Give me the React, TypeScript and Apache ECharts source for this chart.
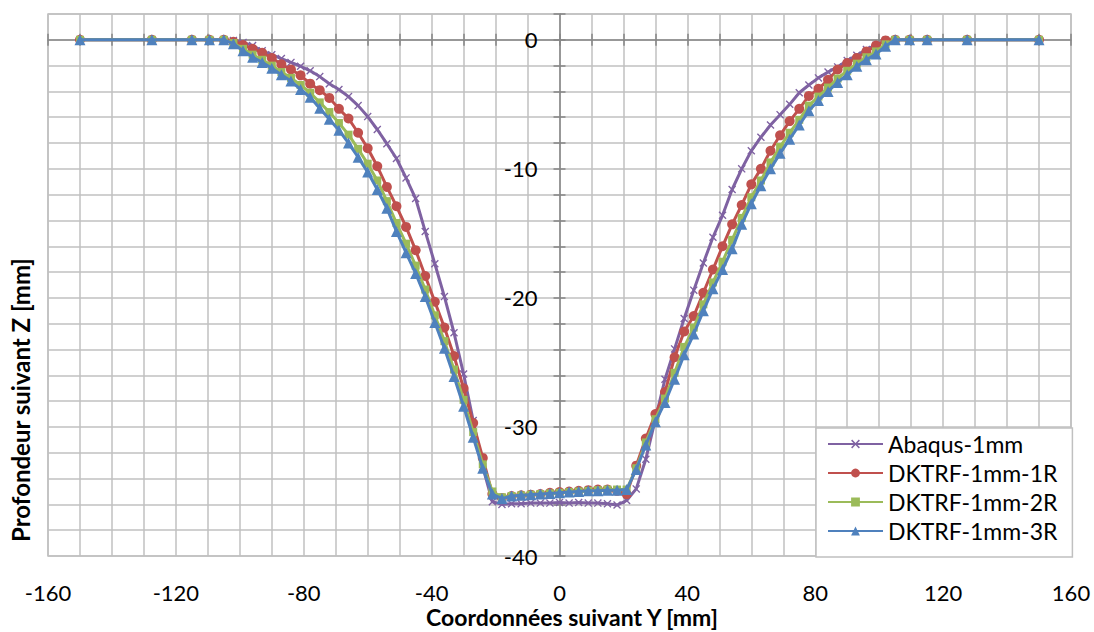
import React, { useEffect, useRef } from "react";
import * as echarts from "echarts";

// Node positions along Y [mm]
const yCoords = [
  -150, -127.5, -115, -109.5, -105,
  -102, -99, -96, -93, -90, -87, -84, -81, -78, -75, -72, -69, -66, -63, -60, -57, -54, -51, -48, -45, -42, -39, -36, -33, -30, -27, -24, -21,
  -18, -15, -12, -9, -6, -3, 0, 3, 6, 9, 12, 15, 18,
  21, 24, 27, 30, 33, 36, 39, 42, 45, 48, 51, 54, 57, 60, 63, 66, 69, 72, 75, 78, 81, 84, 87, 90, 93, 96, 99, 102,
  105, 109.5, 115, 127.5, 150,
];

const abaqus = [
  0, 0, 0, 0, 0,
  -0.05, -0.2, -0.45, -0.85, -1.15, -1.45, -1.75, -2.05, -2.4, -2.85, -3.4, -3.85, -4.4, -5.1, -5.95, -6.95, -8.05, -9.2, -10.7, -12.3, -14.85, -17.35, -19.9, -22.7, -25.9, -29.5, -33.1, -35.8,
  -36.0, -35.95, -35.95, -35.9, -35.9, -35.9, -35.85, -35.9, -35.85, -35.9, -35.9, -35.95, -36.05,
  -35.7, -34.8, -32.5, -29.4, -26.3, -23.95, -21.6, -19.4, -17.3, -15.3, -13.6, -11.6, -10.0, -8.6, -7.55, -6.6, -5.8, -5.0, -4.1, -3.5, -2.95, -2.5, -2.1, -1.6, -1.2, -0.75, -0.42, -0.05,
  0, 0, 0, 0, 0,
];

const dktrf1R = [
  0, 0, 0, 0, 0,
  -0.15, -0.4, -0.7, -1.0, -1.4, -1.9, -2.3, -2.75, -3.4, -3.9, -4.5, -5.35, -6.1, -7.2, -8.4, -9.8, -11.4, -12.9, -14.5, -16.3, -18.3, -20.3, -22.3, -24.5, -27.0, -29.7, -32.4, -35.2,
  -35.5, -35.35, -35.3, -35.25, -35.2, -35.1, -35.05, -35.0, -34.95, -34.9, -34.85, -34.85, -34.95,
  -35.2, -33.0, -30.9, -29.0, -27.3, -24.6, -22.6, -21.4, -19.6, -17.8, -16.0, -14.3, -12.8, -11.2, -10.0, -8.6, -7.4, -6.3, -5.35, -4.35, -3.8, -3.1, -2.3, -1.8, -1.4, -0.9, -0.45, -0.05,
  0, 0, 0, 0, 0,
];

const dktrf2R = [
  0, 0, 0, 0, 0,
  -0.25, -0.7, -1.15, -1.55, -2.0, -2.5, -2.95, -3.5, -4.1, -4.85, -5.6, -6.45, -7.35, -8.45, -9.6, -10.9, -12.5, -14.2, -15.8, -17.5, -19.35, -21.35, -23.35, -25.55, -27.9, -30.4, -32.9, -35.0,
  -35.45, -35.35, -35.3, -35.25, -35.2, -35.15, -35.1, -35.05, -35.0, -34.95, -34.9, -34.85, -34.85,
  -34.85, -33.2, -31.2, -29.4, -27.8, -25.8, -23.8, -22.3, -20.5, -18.8, -17.2, -15.5, -13.8, -12.2, -10.9, -9.5, -8.3, -7.2, -6.2, -5.1, -4.4, -3.7, -3.0, -2.4, -1.85, -1.35, -0.9, -0.35,
  0, 0, 0, 0, 0,
];

const dktrf3R = [
  0, 0, 0, 0, 0,
  -0.3, -0.85, -1.35, -1.75, -2.2, -2.7, -3.2, -3.85, -4.45, -5.3, -6.15, -7.0, -8.0, -9.1, -10.25, -11.6, -13.05, -14.85, -16.5, -18.1, -19.9, -21.9, -23.9, -26.1, -28.4, -30.8, -33.2, -35.2,
  -35.55, -35.35, -35.3, -35.25, -35.2, -35.15, -35.1, -35.05, -35.0, -34.95, -34.95, -34.9, -34.9,
  -34.85, -33.3, -31.4, -29.6, -28.1, -26.3, -24.4, -22.8, -21.0, -19.3, -17.8, -16.2, -14.3, -12.7, -11.3, -10.0, -8.8, -7.7, -6.6, -5.5, -4.7, -4.0, -3.3, -2.7, -2.05, -1.55, -1.1, -0.5,
  0, 0, 0, 0, 0,
];

const seriesNames = ["Abaqus-1mm", "DKTRF-1mm-1R", "DKTRF-1mm-2R", "DKTRF-1mm-3R"];
const seriesValues = [abaqus, dktrf1R, dktrf2R, dktrf3R];
const seriesColors = ["#7F62A2", "#C0504D", "#9BBB59", "#4F81BD"];
const crossSymbol =
  "path://M0,1.2L1.2,0L5,3.8L8.8,0L10,1.2L6.2,5L10,8.8L8.8,10L5,6.2L1.2,10L0,8.8L3.8,5Z";
const seriesSymbols = [crossSymbol, "circle", "rect", "triangle"];
const seriesSymbolSizes = [8, 10, 8, 11];

const xLabelStep = 40;
const yLabelStep = 10;
const FONT = "Lato, 'Open Sans', sans-serif";
const GRID_COLOR = "#C0C0C0";
const AXIS_COLOR = "#868686";

const W = 1094;
const H = 632;
const GRID_LEFT = 48;
const GRID_RIGHT = 23;
const X_MIN = -160;
const X_MAX = 160;

export default function App() {
  const ref = useRef<HTMLDivElement>(null);

  useEffect(() => {
    if (!ref.current) return;
    const chart = echarts.init(ref.current, undefined, { renderer: "svg" });

    const series = seriesNames.map((name, i) => ({
      name,
      type: "line",
      xAxisIndex: 0,
      yAxisIndex: 0,
      data: yCoords.map((x, j) => [x, seriesValues[i][j]]),
      symbol: seriesSymbols[i],
      symbolSize: seriesSymbolSizes[i],
      showSymbol: true,
      showAllSymbol: true,
      lineStyle: { color: seriesColors[i], width: 3 },
      itemStyle: { color: seriesColors[i] },
      z: 3 + i,
    }));

    const plotWidth = W - GRID_LEFT - GRID_RIGHT;
    const zeroOffset = -((0 - X_MIN) / (X_MAX - X_MIN)) * plotWidth;

    const xBase = { type: "value", min: X_MIN, max: X_MAX, interval: 10 };
    const yBase = { type: "value", min: -40, max: 2, interval: 2 };

    chart.setOption({
      animation: false,
      backgroundColor: "#ffffff",
      grid: {
        left: GRID_LEFT,
        right: GRID_RIGHT,
        top: 14,
        bottom: 76,
        show: true,
        borderColor: GRID_COLOR,
        borderWidth: 1.5,
      },
      xAxis: [
        {
          ...xBase,
          position: "bottom",
          axisLine: { show: false, onZero: false },
          axisTick: { show: false },
          axisLabel: {
            fontSize: 22,
            lineHeight: 22,
            fontFamily: FONT,
            color: "#000",
            margin: 25,
            formatter: (v: number) => (v % xLabelStep === 0 ? String(v) : ""),
          },
          splitLine: { show: true, lineStyle: { color: GRID_COLOR, width: 1.5 } },
        },
        {
          ...xBase,
          position: "bottom",
          axisLine: { show: true, onZero: true, lineStyle: { color: AXIS_COLOR, width: 1.5 } },
          axisTick: { show: true, inside: false, length: 6, lineStyle: { color: AXIS_COLOR, width: 1.5 } },
          axisLabel: { show: false },
          splitLine: { show: false },
        },
        {
          ...xBase,
          position: "bottom",
          axisLine: { show: false, onZero: true },
          axisTick: { show: true, inside: true, length: 6, lineStyle: { color: AXIS_COLOR, width: 1.5 } },
          axisLabel: { show: false },
          splitLine: { show: false },
        },
      ],
      yAxis: [
        {
          ...yBase,
          position: "left",
          offset: zeroOffset,
          axisLine: { show: true, onZero: false, lineStyle: { color: AXIS_COLOR, width: 1.5 } },
          axisTick: { show: true, inside: false, length: 6, lineStyle: { color: AXIS_COLOR, width: 1.5 } },
          axisLabel: {
            fontSize: 22,
            fontFamily: FONT,
            color: "#000",
            margin: 22,
            formatter: (v: number) => (v % yLabelStep === 0 ? String(v) : ""),
          },
          splitLine: { show: true, lineStyle: { color: GRID_COLOR, width: 1.5 } },
        },
        {
          ...yBase,
          position: "left",
          offset: zeroOffset,
          axisLine: { show: false, onZero: false },
          axisTick: { show: true, inside: true, length: 6, lineStyle: { color: AXIS_COLOR, width: 1.5 } },
          axisLabel: { show: false },
          splitLine: { show: false },
        },
      ],
      legend: {
        orient: "vertical",
        left: 816,
        top: 428,
        padding: [4, 15, 14, 11],
        itemGap: 5,
        itemWidth: 55,
        itemHeight: 11,
        backgroundColor: "#ffffff",
        borderColor: GRID_COLOR,
        borderWidth: 1.5,
        borderRadius: 0,
        textStyle: { fontSize: 23, fontFamily: FONT, color: "#000", lineHeight: 24 },
        data: seriesNames,
      },
      graphic: [
        {
          type: "text",
          x: 572,
          y: 617,
          style: {
            text: "Coordonnées suivant Y [mm]",
            font: `bold 23px ${FONT}`,
            lineHeight: 24,
            fill: "#000",
            align: "center",
            verticalAlign: "middle",
          },
        },
        {
          type: "text",
          x: 20,
          y: 400,
          rotation: Math.PI / 2,
          style: {
            text: "Profondeur suivant Z [mm]",
            font: `bold 24px ${FONT}`,
            fill: "#000",
            align: "center",
            verticalAlign: "middle",
          },
        },
      ],
      series,
    });

    return () => chart.dispose();
  }, []);

  return (
    <div
      ref={ref}
      style={{ position: "fixed", left: 0, top: 0, width: W, height: H, background: "#fff" }}
    />
  );
}
